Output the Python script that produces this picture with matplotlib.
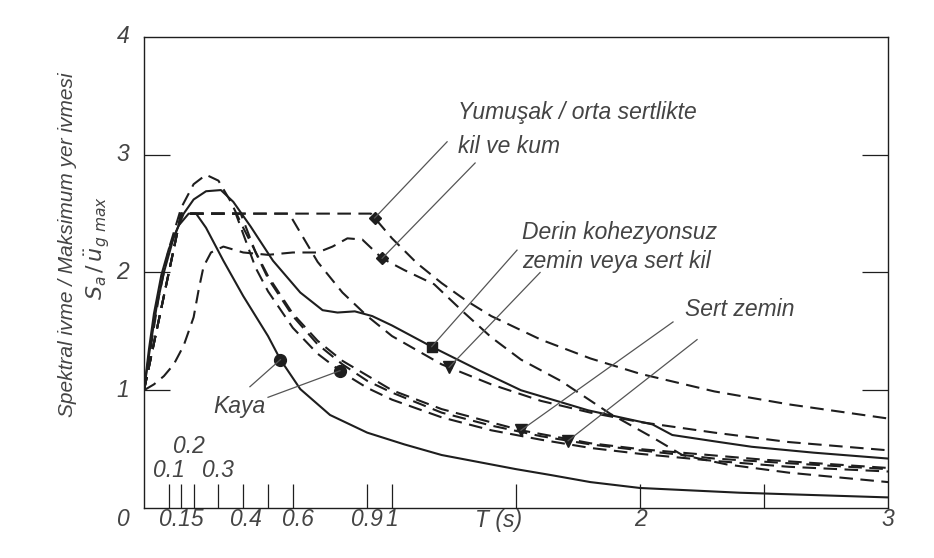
import numpy as np
import matplotlib
matplotlib.use('Agg')
import matplotlib.pyplot as plt

# ortalama spektrumlar (okunan degerler)
kaya_avg_T = [0, 0.02, 0.04, 0.07, 0.1, 0.14, 0.18, 0.21, 0.25, 0.32, 0.4, 0.5,
              0.55, 0.63, 0.75, 0.9, 1.05, 1.2, 1.5, 1.64, 1.8, 2.0, 2.4, 3.0]
kaya_avg = [1.0, 1.35, 1.65, 1.98, 2.2, 2.4, 2.5, 2.5, 2.38, 2.1, 1.8, 1.46,
            1.26, 1.01, 0.79, 0.64, 0.54, 0.45, 0.33, 0.28, 0.22, 0.17, 0.13, 0.09]

derin_avg_T = [0, 0.02, 0.05, 0.08, 0.12, 0.16, 0.2, 0.25, 0.31, 0.36, 0.43, 0.52,
               0.63, 0.72, 0.78, 0.85, 0.92, 1.0, 1.16, 1.35, 1.52, 1.79, 2.05,
               2.13, 2.32, 2.45, 2.7, 3.0]
derin_avg = [1.0, 1.3, 1.7, 2.0, 2.3, 2.5, 2.62, 2.69, 2.7, 2.6, 2.39, 2.1,
             1.83, 1.68, 1.66, 1.67, 1.63, 1.55, 1.37, 1.17, 1.0, 0.83, 0.71,
             0.62, 0.56, 0.52, 0.47, 0.42]

sert_avg_T = [0, 0.03, 0.06, 0.1, 0.15, 0.2, 0.25, 0.3, 0.35, 0.4, 0.5, 0.6,
              0.7, 0.8, 1.0, 1.2, 1.52, 1.8, 2.0, 2.5, 3.0]
sert_avg = [1.0, 1.4, 1.8, 2.2, 2.55, 2.75, 2.83, 2.78, 2.6, 2.38, 1.97, 1.65,
            1.42, 1.25, 1.0, 0.84, 0.66, 0.55, 0.5, 0.41, 0.34]

yum_avg_T = [0, 0.04, 0.08, 0.12, 0.16, 0.2, 0.22, 0.24, 0.27, 0.32, 0.4, 0.5,
             0.6, 0.7, 0.76, 0.82, 0.88, 0.96, 1.05, 1.17, 1.29, 1.4, 1.52,
             1.68, 1.88, 2.05, 2.17, 2.35, 2.6, 3.0]
yum_avg = [1.0, 1.05, 1.12, 1.22, 1.38, 1.62, 1.85, 2.05, 2.17, 2.22, 2.17, 2.15,
           2.17, 2.17, 2.22, 2.29, 2.28, 2.12, 2.02, 1.9, 1.66, 1.45, 1.26,
           1.08, 0.8, 0.6, 0.45, 0.37, 0.3, 0.22]

# tasarim spektrumlari (kesikli)
kaya_des_T = [0, 0.15, 0.37, 0.45, 0.5, 0.6, 0.7, 0.8, 0.9, 1.0, 1.2, 1.4,
              1.6, 1.8, 2.0, 2.3, 2.6, 3.0]
kaya_des = [1.0, 2.5, 2.5, 2.04, 1.84, 1.53, 1.31, 1.15, 1.02, 0.92, 0.77, 0.66,
            0.58, 0.51, 0.46, 0.40, 0.35, 0.31]

sert_des_T = [0, 0.15, 0.39, 0.45, 0.5, 0.6, 0.7, 0.8, 0.9, 1.0, 1.2, 1.4,
              1.6, 1.8, 2.0, 2.3, 2.6, 3.0]
sert_des = [1.0, 2.5, 2.5, 2.17, 1.95, 1.63, 1.39, 1.22, 1.08, 0.98, 0.81, 0.7,
            0.61, 0.54, 0.49, 0.42, 0.38, 0.33]

derin_des_T = [0, 0.15, 0.585, 0.7, 0.8, 0.9, 1.0, 1.2, 1.4, 1.6, 1.8, 2.0,
               2.3, 2.6, 3.0]
derin_des = [1.0, 2.5, 2.5, 2.09, 1.83, 1.63, 1.46, 1.22, 1.05, 0.91, 0.81, 0.73,
             0.64, 0.56, 0.49]

yum_des_T = [0, 0.15, 0.915, 1.0, 1.1, 1.2, 1.3, 1.4, 1.6, 1.8, 2.0, 2.3, 2.6, 3.0]
yum_des = [1.0, 2.5, 2.5, 2.29, 2.08, 1.91, 1.76, 1.63, 1.43, 1.27, 1.14, 0.99,
           0.88, 0.76]

# isaretci periyotlari
kaya_marks = [0.55, 0.79]
yum_marks = [0.93, 0.96]
derin_marks = [1.16, 1.23]
sert_marks = [1.52, 1.71]

xtick_pos = [0.1, 0.15, 0.2, 0.3, 0.4, 0.5, 0.6, 0.9, 1.0, 1.5, 2.0, 2.5]

LINE = '#1e1e1e'
TXT = '#444444'
GREY = '#555555'
DASH = (6.5, 3.6)
LW = 1.5

fig = plt.figure(figsize=(9.34, 5.58), dpi=100)
ax = fig.add_axes([0.1542, 0.0896, 0.7966, 0.8441])
ax.set_xlim(0, 3)
ax.set_ylim(0, 4)

ax.plot(kaya_avg_T, kaya_avg, color=LINE, lw=LW)
ax.plot(derin_avg_T, derin_avg, color=LINE, lw=LW)
for T, v in [(sert_avg_T, sert_avg), (yum_avg_T, yum_avg), (kaya_des_T, kaya_des),
             (sert_des_T, sert_des), (derin_des_T, derin_des), (yum_des_T, yum_des)]:
    ax.plot(T, v, color=LINE, lw=LW, dashes=DASH)

# markers
ax.plot(kaya_marks[0], np.interp(kaya_marks[0], kaya_avg_T, kaya_avg), 'o', color=LINE, ms=8.5)
ax.plot(kaya_marks[1], np.interp(kaya_marks[1], kaya_des_T, kaya_des), 'o', color=LINE, ms=8.5)
ax.plot(yum_marks[0], np.interp(yum_marks[0], yum_des_T, yum_des), 'D', color=LINE, ms=6)
ax.plot(yum_marks[1], np.interp(yum_marks[1], yum_avg_T, yum_avg), 'D', color=LINE, ms=6)
ax.plot(derin_marks[0], np.interp(derin_marks[0], derin_avg_T, derin_avg), 's', color=LINE, ms=7)
ax.plot(derin_marks[1], np.interp(derin_marks[1], derin_des_T, derin_des), 'v', color=LINE, ms=8)
ax.plot(sert_marks[0], np.interp(sert_marks[0], sert_avg_T, sert_avg), 'v', color=LINE, ms=8)
ax.plot(sert_marks[1], np.interp(sert_marks[1], sert_des_T, sert_des), 'v', color=LINE, ms=8)

font = dict(family='Liberation Sans', style='italic', color=TXT, fontsize=16.5)

# leader lines and labels
def leader(x0, y0, x1, y1):
    ax.plot([x0, x1], [y0, y1], color=GREY, lw=0.9)

leader(yum_marks[0], np.interp(yum_marks[0], yum_des_T, yum_des), 1.222, 3.11)
leader(yum_marks[1], np.interp(yum_marks[1], yum_avg_T, yum_avg), 1.335, 2.93)
ax.text(1.266, 3.36, 'Yumuşak / orta sertlikte', va='center', ha='left', **font)
ax.text(1.266, 3.07, 'kil ve kum', va='center', ha='left', **font)

leader(derin_marks[0], np.interp(derin_marks[0], derin_avg_T, derin_avg), 1.504, 2.19)
leader(derin_marks[1], np.interp(derin_marks[1], derin_des_T, derin_des), 1.597, 2.0)
ax.text(1.524, 2.34, 'Derin kohezyonsuz', va='center', ha='left', **font)
ax.text(1.524, 2.09, 'zemin veya sert kil', va='center', ha='left', **font)

leader(sert_marks[0], np.interp(sert_marks[0], sert_avg_T, sert_avg), 2.133, 1.58)
leader(sert_marks[1], np.interp(sert_marks[1], sert_des_T, sert_des), 2.23, 1.43)
ax.text(2.18, 1.69, 'Sert zemin', va='center', ha='left', **font)

leader(kaya_marks[0], np.interp(kaya_marks[0], kaya_avg_T, kaya_avg), 0.427, 1.03)
leader(kaya_marks[1], np.interp(kaya_marks[1], kaya_des_T, kaya_des), 0.5, 0.94)
ax.text(0.28, 0.86, 'Kaya', va='center', ha='left', **font)

# ticks
ax.set_xticks(xtick_pos)
ax.set_yticks([1, 2, 3])
ax.set_xticklabels([])
ax.set_yticklabels([])
ax.tick_params(axis='x', direction='in', length=17, width=0.9, colors=LINE)
ax.tick_params(axis='y', direction='in', length=19, width=0.9, colors=LINE,
               left=True, right=True)
for s in ax.spines.values():
    s.set_linewidth(1.0)
    s.set_color(LINE)

# tick labels as text
for x, lab in [(0.15, '0.15'), (0.41, '0.4'), (0.62, '0.6'), (0.9, '0.9'),
               (1.0, '1'), (2.0, '2'), (3.0, '3')]:
    ax.text(x, -0.1, lab, ha='center', va='center', clip_on=False, **font)
ax.text(1.43, -0.11, 'T (s)', ha='center', va='center', clip_on=False, **font)
ax.text(-0.085, -0.1, '0', ha='center', va='center', clip_on=False, **font)
for y in [1, 2, 3, 4]:
    ax.text(-0.085, y, str(y), ha='center', va='center', clip_on=False, **font)
ax.text(0.1, 0.32, '0.1', ha='center', va='center', **font)
ax.text(0.18, 0.52, '0.2', ha='center', va='center', **font)
ax.text(0.3, 0.32, '0.3', ha='center', va='center', **font)

fig.text(68 / 934, 1 - 245 / 558, 'Spektral ivme / Maksimum yer ivmesi',
         rotation=90, ha='center', va='center',
         family='Liberation Sans', style='italic', color=TXT, fontsize=15)
fig.text(97 / 934, 1 - 248 / 558, r'$S_a\,/\,\ddot{u}_{g\ max}$',
         rotation=90, ha='center', va='center', color=TXT, fontsize=16)

fig.savefig('out.png', dpi=100, facecolor='white')
